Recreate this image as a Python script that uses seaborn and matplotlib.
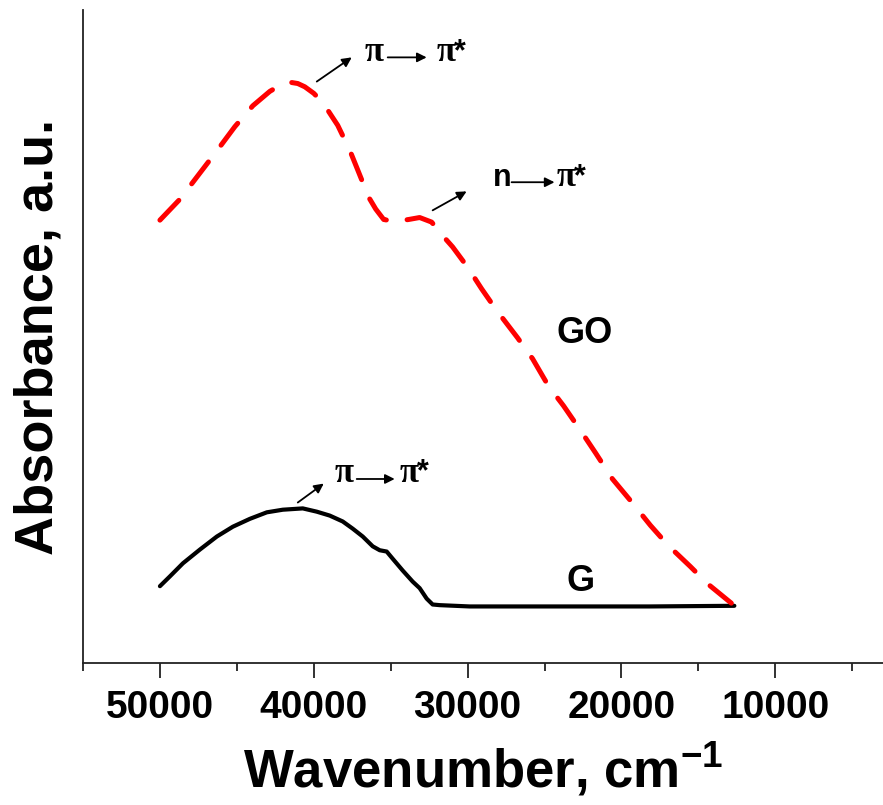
import matplotlib
matplotlib.use("Agg")
import matplotlib.pyplot as plt
import pandas as pd
import seaborn as sns
from matplotlib.ticker import MultipleLocator


go_wavenumber = [50000, 48701, 47403, 46364, 45130, 43961, 42857, 42208, 41558, 41039,
                 40584, 40000, 39416, 38442, 37662, 37078, 36429, 35974, 35455, 34740,
                 33831, 33117, 32338, 31688, 30974, 30000, 29091, 28117, 26753, 25779,
                 24740, 23766, 22597, 21688, 20584, 19416, 18117, 16948, 15519, 14416,
                 12857]
go_absorbance = [0.678, 0.710, 0.750, 0.782, 0.821, 0.853, 0.875, 0.884, 0.889, 0.887,
                 0.882, 0.872, 0.858, 0.823, 0.785, 0.751, 0.713, 0.695, 0.679, 0.676,
                 0.679, 0.682, 0.675, 0.656, 0.637, 0.606, 0.573, 0.540, 0.498, 0.466,
                 0.424, 0.394, 0.354, 0.322, 0.282, 0.249, 0.211, 0.180, 0.148, 0.122,
                 0.092]

g_wavenumber = [50000, 49351, 48506, 47403, 46299, 45260, 44156, 43052, 42013, 40714,
                39805, 38961, 38117, 37468, 36818, 36169, 35714, 35260, 34870, 34221,
                33571, 33117, 32662, 32273, 31818, 29870, 24675, 18182, 12662]
g_absorbance = [0.118, 0.133, 0.153, 0.174, 0.194, 0.209, 0.221, 0.231, 0.235, 0.237,
                0.232, 0.226, 0.217, 0.206, 0.194, 0.179, 0.173, 0.171, 0.160, 0.142,
                0.125, 0.115, 0.099, 0.090, 0.089, 0.087, 0.087, 0.087, 0.088]

x_ticks = [50000, 40000, 30000, 20000, 10000]


def arrow(ax, start, end):
	ax.annotate("", xy=end, xytext=start,
				arrowprops=dict(arrowstyle="-|>", lw=1.3, color="black",
								mutation_scale=14, shrinkA=0, shrinkB=0))


def transition(ax, first, x_first, x_arrow, x_second, y_text, y_arrow, first_serif=True):
	pi_font = dict(family="Liberation Serif", fontweight="bold", fontsize=25, color="black")
	sans_font = dict(family="Liberation Sans", fontweight="bold", fontsize=22, color="black")
	ax.text(x_first, y_text, first, ha="left", va="baseline",
			**(pi_font if first_serif else sans_font))
	arrow(ax, (x_arrow[0], y_arrow), (x_arrow[1], y_arrow))
	ax.text(x_second, y_text, "π", ha="left", va="baseline", **pi_font)
	ax.text(x_second - 1150, y_text + 0.002, "*", ha="left", va="baseline", **sans_font)


def main():
	sns.set_style("ticks")
	plt.rcParams["font.family"] = ["Liberation Sans", "DejaVu Sans"]
	plt.rcParams["text.color"] = "black"
	plt.rcParams["axes.labelcolor"] = "black"
	plt.rcParams["xtick.color"] = "black"
	plt.rcParams["mathtext.fontset"] = "custom"
	plt.rcParams["mathtext.rm"] = "Liberation Sans:bold"
	plt.rcParams["mathtext.bf"] = "Liberation Sans:bold"

	fig = plt.figure(figsize=(8.83, 8.05), dpi=100)
	ax = fig.add_axes([0.094, 0.176, 0.906, 0.812])

	go_df = pd.DataFrame({"wavenumber": go_wavenumber, "absorbance": go_absorbance})
	g_df = pd.DataFrame({"wavenumber": g_wavenumber, "absorbance": g_absorbance})

	sns.lineplot(data=g_df, x="wavenumber", y="absorbance", color="black", lw=3.0, ax=ax)
	ax.lines[-1].set_solid_joinstyle("round")
	ax.lines[-1].set_solid_capstyle("round")
	sns.lineplot(data=go_df, x="wavenumber", y="absorbance", color="#ff0000", lw=3.6, ax=ax)
	go_line = ax.lines[-1]
	go_line.set_dashes((5.5, 4.2))
	go_line.set_dash_capstyle("round")
	go_line.set_dash_joinstyle("round")

	ax.set_xlim(55000, 3000)
	ax.set_ylim(0, 1.0)
	ax.set_xticks(x_ticks)
	ax.set_xticklabels([str(t) for t in x_ticks])
	ax.xaxis.set_minor_locator(MultipleLocator(5000))
	ax.set_yticks([])
	sns.despine(ax=ax)
	for side in ["left", "bottom"]:
		ax.spines[side].set_linewidth(1.3)
		ax.spines[side].set_color("#222222")
	ax.tick_params(axis="x", which="major", length=11, width=1.3, pad=8,
				   labelsize=28, color="#222222", labelcolor="black")
	ax.tick_params(axis="x", which="minor", length=6, width=1.3, color="#222222")
	for label in ax.get_xticklabels():
		label.set_fontweight("bold")

	ax.set_xlabel("Wavenumber, cm$^{\\mathbf{-1}}$", fontsize=38, fontweight="bold", labelpad=10)
	ax.set_ylabel("Absorbance, a.u.", fontsize=39, fontweight="bold", labelpad=14)

	# peak assignments
	arrow(ax, (39805, 0.890), (37532, 0.927))
	transition(ax, "π", 36688, (35195, 32662), 32013, 0.921, 0.927)
	arrow(ax, (32273, 0.693), (30065, 0.722))
	transition(ax, "n", 28377, (27143, 24351), 24221, 0.730, 0.736, first_serif=False)
	arrow(ax, (41039, 0.246), (39351, 0.275))
	transition(ax, "π", 38636, (37208, 34740), 34416, 0.278, 0.282)

	ax.text(22403, 0.504, "GO", ha="center", va="center", fontsize=26, fontweight="bold")
	ax.text(22662, 0.125, "G", ha="center", va="center", fontsize=26, fontweight="bold")

	fig.savefig("out.png", dpi=100)


if __name__ == "__main__":
	main()
